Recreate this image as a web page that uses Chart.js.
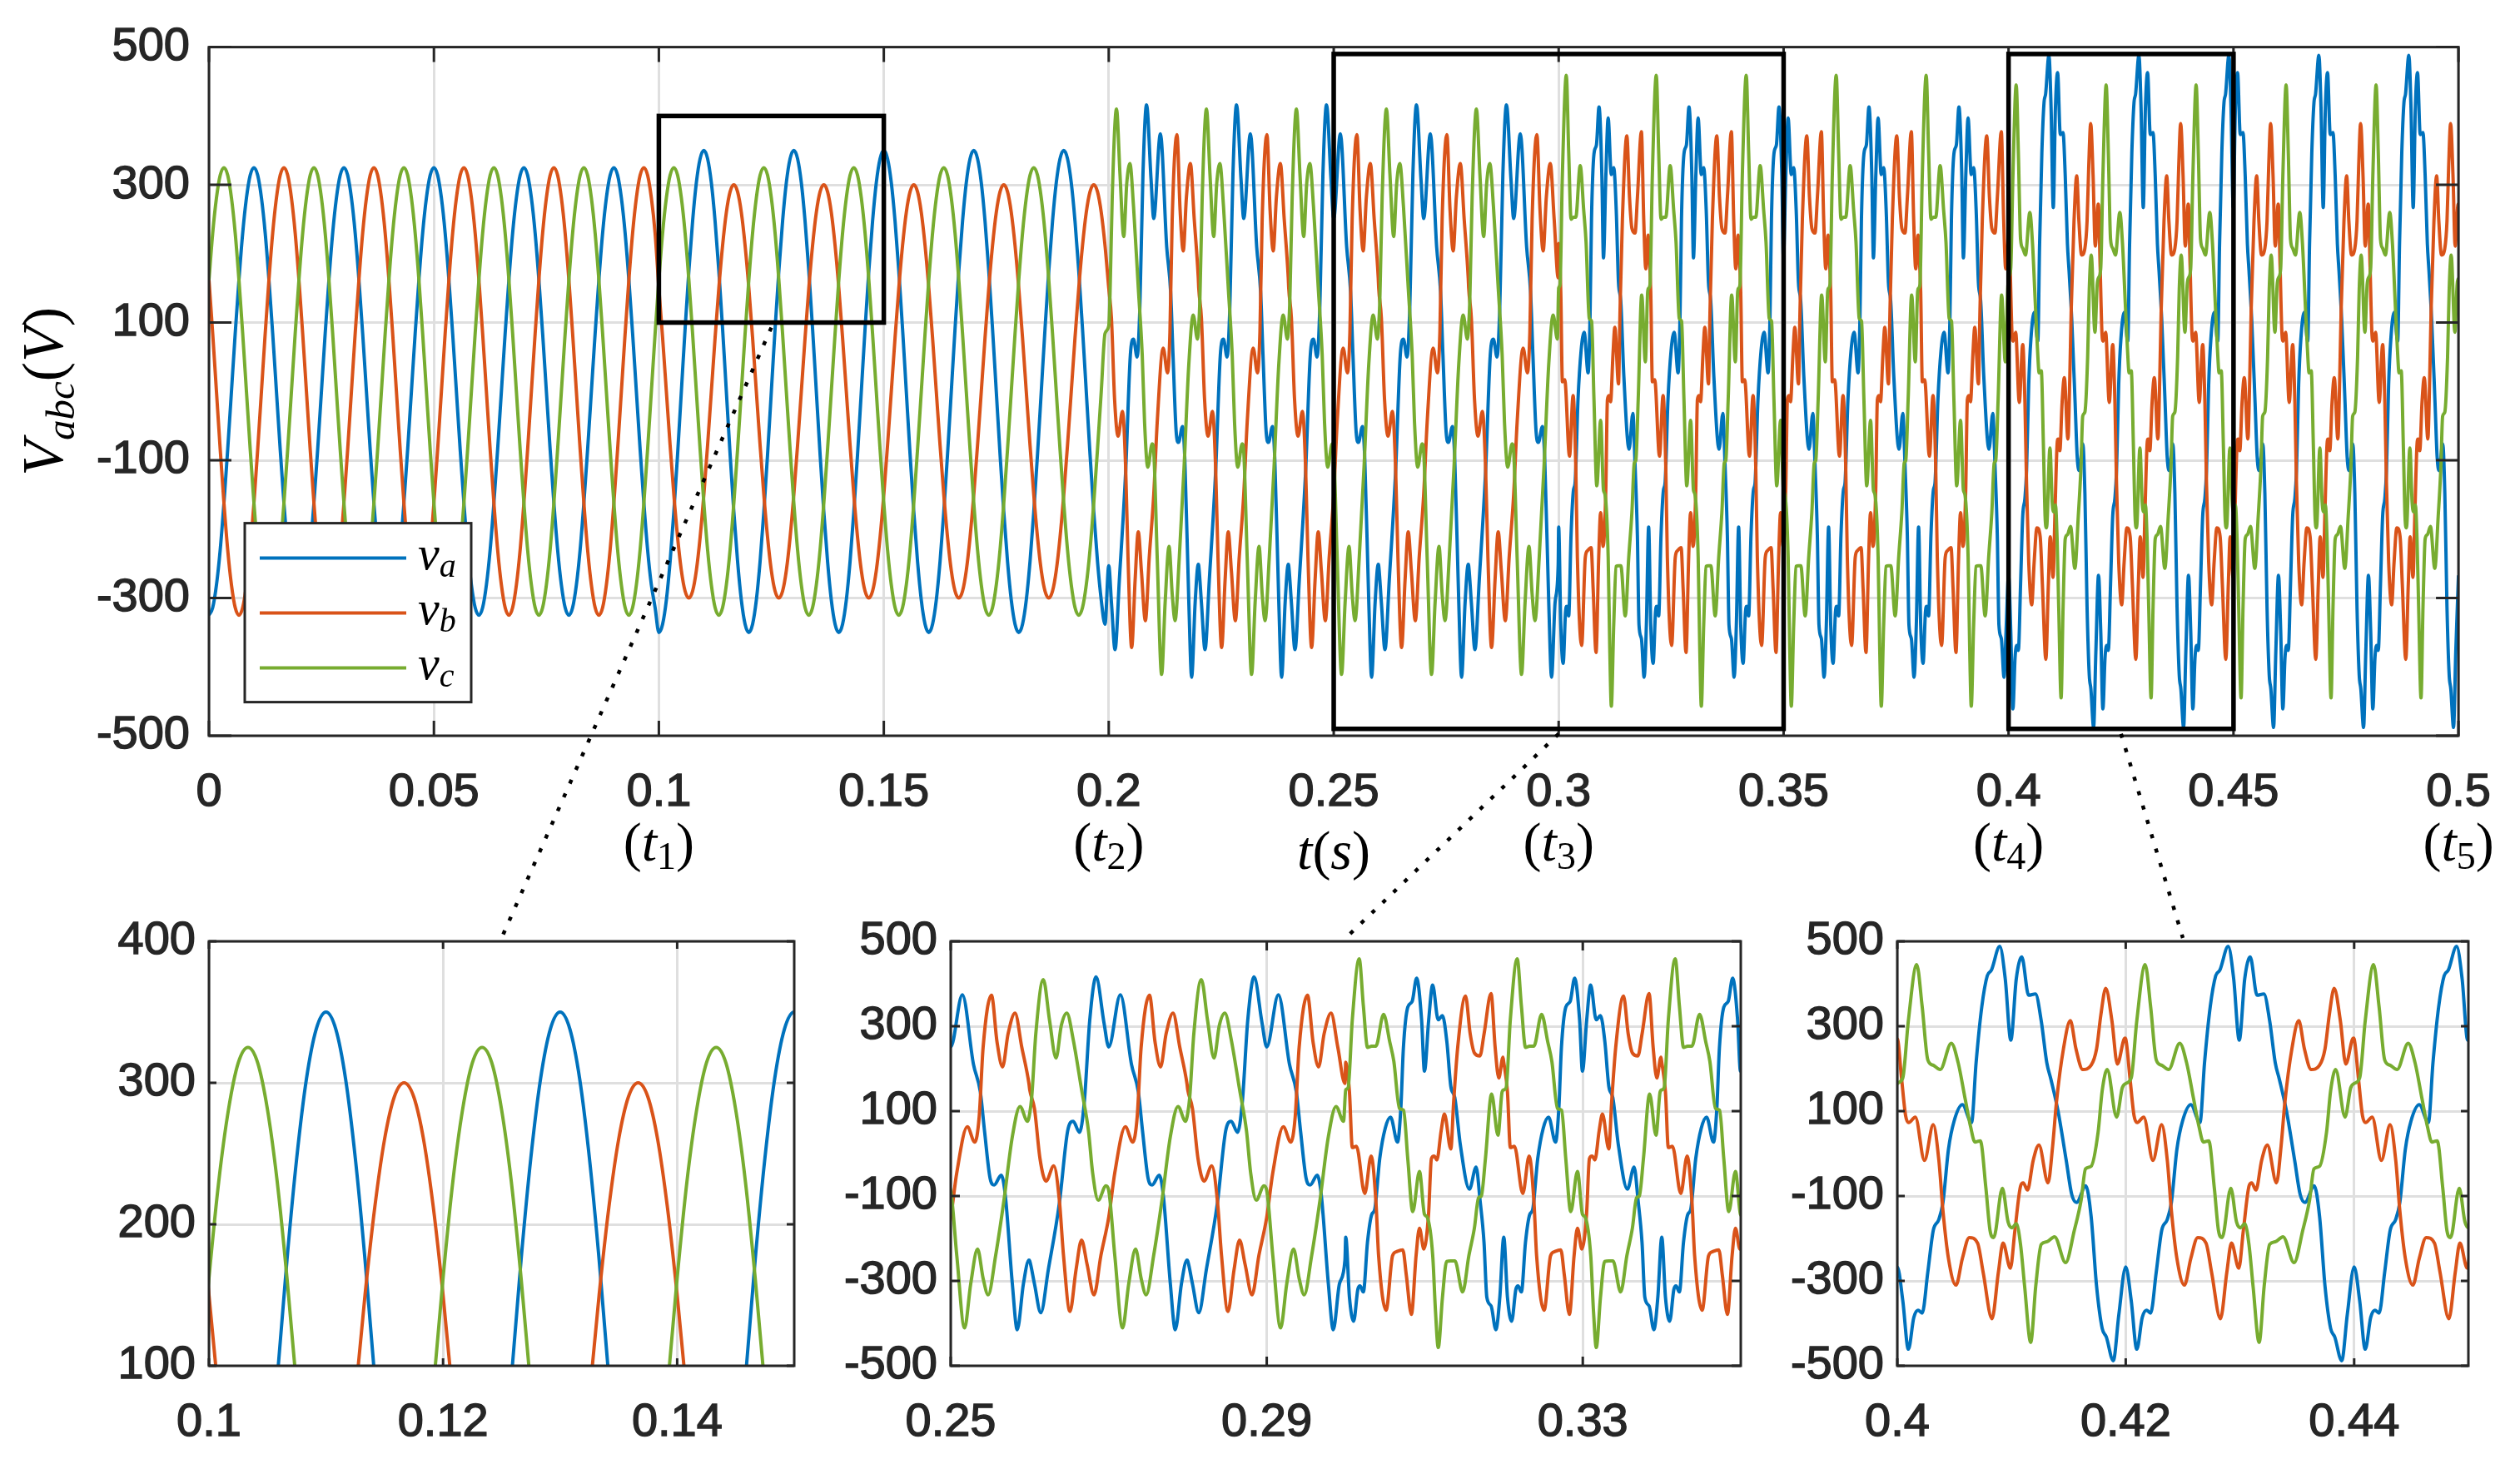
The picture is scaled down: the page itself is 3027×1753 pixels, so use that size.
<!DOCTYPE html>
<html>
<head>
<meta charset="utf-8">
<script src="https://cdn.jsdelivr.net/npm/chart.js@4.4.1/dist/chart.umd.min.js"></script>
<style>
html, body { margin: 0; padding: 0; background: #fff; }
#page { position: relative; width: 3027px; height: 1753px; overflow: hidden; background: #fff; }
#page canvas { position: absolute; left: 0; top: 0; }
</style>
</head>
<body>
<div id="page">
	<canvas id="mainChart" width="3027" height="1753"></canvas>
	<canvas id="inset0" width="3027" height="1753"></canvas>
	<canvas id="inset1" width="3027" height="1753"></canvas>
	<canvas id="inset2" width="3027" height="1753"></canvas>
	<canvas id="overlay" width="3027" height="1753"></canvas>
</div>
<script>
// time base: 50 Hz, five cycles in each interval t0..t5
const periodMs = 20;
const cyclesPerSegment = 5;
const segmentStarts = [0, 0.1, 0.2, 0.3, 0.4];
const endTime = 0.5;

// sample instants (ms inside one cycle) for the two sinusoidal intervals
const sinePhaseMs = [0, 0.833, 1.667, 2.5, 3.333, 4.167, 5, 5.833, 6.667, 7.5, 8.333, 9.167,
	10, 10.833, 11.667, 12.5, 13.333, 14.167, 15, 15.833, 16.667, 17.5, 18.333, 19.167];

// 0 - 0.1 s : balanced 325 V
const va1 = [-325, -314, -281, -230, -162, -84, 0, 84, 162, 230, 281, 314, 325, 314, 281, 230, 162, 84, 0, -84, -162, -230, -281, -314];
const vb1 = [162, 84, 0, -84, -162, -230, -281, -314, -325, -314, -281, -230, -162, -84, 0, 84, 162, 230, 281, 314, 325, 314, 281, 230];
const vc1 = [162, 230, 281, 314, 325, 314, 281, 230, 162, 84, 0, -84, -162, -230, -281, -314, -325, -314, -281, -230, -162, -84, 0, 84];

// 0.1 - 0.2 s : unbalanced (350 / 300 / 325 V)
const va2 = [-350, -338, -303, -247, -175, -91, 0, 91, 175, 247, 303, 338, 350, 338, 303, 247, 175, 91, 0, -91, -175, -247, -303, -338];
const vb2 = [150, 78, 0, -78, -150, -212, -260, -290, -300, -290, -260, -212, -150, -78, 0, 78, 150, 212, 260, 290, 300, 290, 260, 212];
const vc2 = [162, 230, 281, 314, 325, 314, 281, 230, 162, 84, 0, -84, -162, -230, -281, -314, -325, -314, -281, -230, -162, -84, 0, 84];

// distorted intervals, one cycle each as [ms in cycle, volts]
const va3 = [[0,-253],[0.6,-307],[1.4,-375],[2.35,-274],[3.75,-117],[4.8,53],[5.5,76],[6.3,50],[6.9,119],[7.6,315],[8.4,416],[9.4,308],[10,251],[11.47,374],[12.88,210],[13.75,145],[14.28,53],[14.98,-58],[15.5,-74],[16.39,-51],[16.9,-97],[17.8,-307],[18.42,-415],[19.2,-307],[19.9,-251]];
const vb3 = [[0,150],[0.6,106],[1.3,-12],[2.07,-65],[3.05,-29],[3.75,-110],[4.28,-241],[5.09,-372],[5.86,-274],[6.56,-204],[7.26,-261],[8.14,-333],[9.0,-241],[10,-150],[10.77,-45],[12.1,63],[13.05,27],[13.6,86],[14.1,250],[15.16,373],[15.86,263],[16.56,204],[17.26,282],[18.14,331],[19.0,250],[19.9,165]];
const vc3 = [[0,95],[0.25,132],[0.77,282],[1.72,410],[2.5,315],[3.33,225],[4.0,302],[4.7,331],[5.5,269],[6.56,151],[7.44,53],[7.96,-45],[8.67,-110],[9.65,-76],[10,-87],[10.77,-241],[11.75,-411],[12.53,-307],[13.4,-225],[14.1,-294],[14.74,-333],[15.68,-241],[16.74,-110],[17.8,40],[18.77,111],[19.72,76]];

const va4 = [[0,-197],[0.47,-339],[1.0,-395],[1.53,-320],[1.81,-312],[2.23,-326],[2.75,-209],[3.3,-143],[3.65,-133],[4.3,-12],[5.0,60],[5.67,86],[6.55,27],[6.97,106],[7.3,250],[7.85,345],[8.4,358],[8.97,413],[9.6,315],[9.96,194],[10.5,315],[11.0,397],[11.7,315],[12.24,325],[12.8,263],[13.3,158],[13.8,132],[14.5,21],[15.65,-84],[16.5,-32],[17.0,-110],[17.5,-209],[17.86,-339],[18.4,-359],[19.0,-415],[19.5,-339]];
const vb4 = [[0,215],[0.47,145],[0.83,14],[1.35,17],[2.41,-94],[3.21,-6],[3.81,-110],[4.16,-241],[5.11,-369],[5.92,-241],[6.45,-231],[7.22,-227],[7.67,-287],[8.31,-379],[8.9,-241],[9.33,-176],[9.89,-225],[10.48,-143],[10.84,-12],[11.19,-6],[11.54,-15],[12.07,53],[12.49,93],[13.3,11],[13.65,119],[14.17,250],[15.16,371],[15.75,282],[16.28,237],[16.98,230],[17.51,282],[18.39,377],[18.91,250],[19.37,178],[19.9,227]];
const vc4 = [[0,150],[0.3,155],[0.83,315],[1.7,459],[2.23,348],[2.76,250],[3.28,253],[3.81,253],[4.79,328],[5.57,263],[6.09,217],[6.8,106],[7.32,102],[7.85,-12],[8.48,-137],[9.33,-42],[9.96,-143],[10.31,-150],[11.01,-241],[11.36,-372],[11.71,-457],[12.24,-339],[12.77,-254],[13.29,-253],[13.82,-253],[14.8,-326],[15.58,-241],[16.28,-176],[16.81,-104],[17.16,-100],[17.68,-12],[18.46,140],[19.27,43],[19.79,145]];

const va5 = [[0,-267],[0.48,-346],[0.97,-461],[1.45,-386],[1.82,-369],[2.18,-376],[2.67,-280],[3.15,-181],[3.64,-155],[4.0,-115],[4.48,10],[4.97,76],[5.7,115],[6.5,73],[6.9,214],[7.4,346],[7.88,419],[8.24,432],[8.97,488],[9.45,412],[9.94,267],[10.42,412],[10.9,463],[11.5,373],[12.1,376],[12.6,313],[13.09,214],[13.45,175],[14.06,102],[14.79,-16],[15.27,-96],[15.7,-115],[16.5,-76],[16.97,-148],[17.45,-313],[17.94,-412],[18.3,-432],[18.91,-488],[19.4,-379]];
const vb5 = [[0,270],[0.36,181],[0.73,89],[1.0,73],[1.58,86],[2.38,-16],[3.15,68],[3.64,-16],[4.0,-135],[4.48,-247],[5.14,-310],[5.7,-247],[6.3,-198],[7.03,-211],[7.52,-280],[8.29,-389],[8.85,-280],[9.26,-211],[9.9,-270],[10.3,-181],[10.8,-76],[11.03,-69],[11.4,-86],[11.9,-16],[12.4,20],[13.2,-69],[13.6,17],[13.94,122],[14.55,247],[15.15,313],[15.64,247],[16.24,198],[16.97,208],[17.45,247],[17.82,326],[18.25,389],[18.79,313],[19.27,211],[19.93,272]];
const vc5 = [[0,165],[0.48,178],[0.97,313],[1.7,445],[2.18,346],[2.67,221],[3.15,208],[3.76,198],[4.73,260],[5.33,214],[5.94,129],[6.42,63],[6.8,27],[7.27,30],[7.76,-82],[8.12,-181],[8.44,-198],[9.2,-82],[9.7,-161],[10.06,-175],[10.42,-165],[10.79,-214],[11.15,-313],[11.68,-445],[12.12,-313],[12.6,-214],[13.09,-208],[13.77,-196],[14.74,-257],[15.5,-181],[16.1,-109],[16.48,-36],[16.97,-30],[17.58,50],[17.94,148],[18.38,198],[19.2,86],[19.7,155]];

// axes
const mainXTicks = [0, 0.05, 0.1, 0.15, 0.2, 0.25, 0.3, 0.35, 0.4, 0.45, 0.5];
const mainYTicks = [-500, -300, -100, 100, 300, 500];
const eventTimes = [0.1, 0.2, 0.3, 0.4, 0.5];
const eventIndex = ['1', '2', '3', '4', '5'];

// zoomed windows and their insets
const zoomStart = [0.1, 0.25, 0.4];
const zoomEnd = [0.15, 0.35, 0.45];
const zoomLow = [100, -490, -490];
const zoomHigh = [400, 490, 490];
const insetYMin = [100, -500, -500];
const insetYMax = [400, 500, 500];
const insetXTicks = [[0.1, 0.12, 0.14], [0.25, 0.29, 0.33], [0.4, 0.42, 0.44]];
const insetYTicks = [[100, 200, 300, 400], mainYTicks, mainYTicks];

const seriesColors = ['#0072BD', '#D95319', '#77AC30'];
const seriesSub = ['a', 'b', 'c'];

const ink = '#262626';
const sansFont = "'Liberation Sans', Arial, Helvetica, sans-serif";
const serifFont = "'Liberation Serif', 'Times New Roman', serif";
const it = s => `italic ${s}px ${serifFont}`;
const up = s => `${s}px ${serifFont}`;

const zip = (ts, vs) => ts.map((t, i) => [t, vs[i]]);

function buildSeries(cycles) {
	const pts = [];
	segmentStarts.forEach((t0, s) => {
		for (let k = 0; k < cyclesPerSegment; k++) {
			cycles[s].forEach(([p, v]) => pts.push({x: t0 + (k * periodMs + p) / 1000, y: v}));
		}
	});
	pts.push({x: endTime, y: cycles[cycles.length - 1][0][1]});
	return pts;
}

const series = [
	buildSeries([zip(sinePhaseMs, va1), zip(sinePhaseMs, va2), va3, va4, va5]),
	buildSeries([zip(sinePhaseMs, vb1), zip(sinePhaseMs, vb2), vb3, vb4, vb5]),
	buildSeries([zip(sinePhaseMs, vc1), zip(sinePhaseMs, vc2), vc3, vc4, vc5]),
];

function makeDatasets() {
	// last dataset in the list is drawn first, so v_c ends up on top like in matlab
	return [2, 1, 0].map(i => ({
		data: series[i],
		borderColor: seriesColors[i],
		borderWidth: 4,
		pointRadius: 0,
		cubicInterpolationMode: 'monotone',
		fill: false,
		clip: 0,
	}));
}

function makeScale(min, max, values, size, pad, horizontal) {
	return {
		type: 'linear',
		min: min,
		max: max,
		afterBuildTicks: s => { s.ticks = values.map(v => ({value: v})); },
		afterFit: s => { if (horizontal) s.height = size; else s.width = size; },
		ticks: {
			font: {family: sansFont, size: 56},
			color: ink,
			textStrokeColor: ink,
			textStrokeWidth: 1.4,
			padding: pad,
			autoSkip: false,
			maxRotation: 0,
			minRotation: 0,
			callback: v => String(Number(v.toFixed(3))),
		},
		grid: {color: '#dfdfdf', lineWidth: 3, drawTicks: false},
		border: {display: false},
	};
}

function drawRuns(ctx, runs, x, y, align) {
	let w = 0;
	runs.forEach(r => { ctx.font = r[1]; w += ctx.measureText(r[0]).width; });
	let cx = align == 'center' ? x - w / 2 : x;
	runs.forEach(r => {
		ctx.font = r[1];
		ctx.fillText(r[0], cx, y + (r[2] || 0));
		cx += ctx.measureText(r[0]).width;
	});
}

// inward ticks on all four sides plus the box, matlab style
const matlabAxes = {
	id: 'matlabAxes',
	afterDatasetsDraw(chart, args, opts) {
		const ctx = chart.ctx;
		const a = chart.chartArea;
		const x = chart.scales.x, y = chart.scales.y;
		ctx.save();
		ctx.strokeStyle = ink;
		ctx.lineWidth = 3;
		ctx.beginPath();
		x.ticks.forEach(t => {
			const px = x.getPixelForValue(t.value);
			ctx.moveTo(px, a.bottom); ctx.lineTo(px, a.bottom - opts.xLen);
			ctx.moveTo(px, a.top); ctx.lineTo(px, a.top + opts.xLen);
		});
		y.ticks.forEach(t => {
			const py = y.getPixelForValue(t.value);
			ctx.moveTo(a.left, py); ctx.lineTo(a.left + opts.yLen, py);
			ctx.moveTo(a.right, py); ctx.lineTo(a.right - opts.yLen, py);
		});
		ctx.stroke();
		ctx.strokeRect(a.left, a.top, a.right - a.left, a.bottom - a.top);
		ctx.restore();
	}
};

// zoom boxes, legend and latex-like labels of the big axes
const mainDecor = {
	id: 'mainDecor',
	afterDraw(chart) {
		const ctx = chart.ctx;
		const a = chart.chartArea;
		const x = chart.scales.x, y = chart.scales.y;
		ctx.save();

		ctx.strokeStyle = '#000';
		ctx.lineWidth = 5.5;
		zoomStart.forEach((t, i) => {
			const x0 = x.getPixelForValue(t), x1 = x.getPixelForValue(zoomEnd[i]);
			const y0 = y.getPixelForValue(zoomHigh[i]), y1 = y.getPixelForValue(zoomLow[i]);
			ctx.strokeRect(x0, y0, x1 - x0, y1 - y0);
		});

		// legend
		const lx = a.left + 43, ly = a.top + 572;
		ctx.fillStyle = '#fff';
		ctx.fillRect(lx, ly, 272, 215);
		ctx.strokeStyle = ink;
		ctx.lineWidth = 3;
		ctx.strokeRect(lx, ly, 272, 215);
		ctx.textBaseline = 'alphabetic';
		ctx.textAlign = 'left';
		seriesColors.forEach((c, i) => {
			const ry = ly + 42 + i * 66;
			ctx.strokeStyle = c;
			ctx.lineWidth = 4;
			ctx.beginPath();
			ctx.moveTo(lx + 18, ry);
			ctx.lineTo(lx + 194, ry);
			ctx.stroke();
			ctx.fillStyle = '#000';
			drawRuns(ctx, [['v', it(58)], [seriesSub[i], it(40), 9]], lx + 208, ry + 13, 'left');
		});

		// second row under the time ticks
		ctx.fillStyle = '#000';
		eventTimes.forEach((t, i) => {
			drawRuns(ctx, [['(', up(66)], ['t', it(66)], [eventIndex[i], up(46), 10], [')', up(66)]],
				x.getPixelForValue(t), a.bottom + 150, 'center');
		});
		drawRuns(ctx, [['t', it(66)], ['(', up(66)], ['s', it(66)], [')', up(66)]],
			(a.left + a.right) / 2, a.bottom + 160, 'center');

		// y label
		ctx.translate(a.left - 176, (a.top + a.bottom) / 2);
		ctx.rotate(-Math.PI / 2);
		drawRuns(ctx, [['V', it(70)], ['abc', it(49), 14], ['(', up(70)], ['V', it(70)], [')', up(70)]], 0, 0, 'center');
		ctx.restore();
	}
};

const W = 3027, H = 1753;

const mainChart = new Chart('mainChart', {
	type: 'line',
	data: {datasets: makeDatasets()},
	options: {
		responsive: false,
		animation: false,
		devicePixelRatio: 1,
		events: [],
		parsing: false,
		layout: {padding: {left: 51, right: W - 2965, top: 52, bottom: H - 884 - 150}},
		scales: {
			x: makeScale(0, 0.5, mainXTicks, 150, 35, true),
			y: makeScale(-500, 500, mainYTicks, 200, 23, false),
		},
		plugins: {legend: {display: false}, tooltip: {enabled: false}, matlabAxes: {xLen: 18, yLen: 27}},
	},
	plugins: [matlabAxes, mainDecor],
});

const insetLeft = [251, 1142, 2279];
const insetRight = [954, 2091, 2965];
const insetTickLen = [9, 11, 9];
const insetTop = 1131, insetBottom = 1641;

const insets = zoomStart.map((t, i) => new Chart('inset' + i, {
	type: 'line',
	data: {datasets: makeDatasets()},
	options: {
		responsive: false,
		animation: false,
		devicePixelRatio: 1,
		events: [],
		parsing: false,
		layout: {padding: {left: insetLeft[i] - 130, right: W - insetRight[i], top: insetTop, bottom: H - insetBottom - 100}},
		scales: {
			x: makeScale(t, zoomEnd[i], insetXTicks[i], 100, 35, true),
			y: makeScale(insetYMin[i], insetYMax[i], insetYTicks[i], 130, 16, false),
		},
		plugins: {legend: {display: false}, tooltip: {enabled: false}, matlabAxes: {xLen: insetTickLen[i], yLen: insetTickLen[i]}},
	},
	plugins: [matlabAxes],
}));

// dotted connectors from each zoom box to its inset
const octx = document.getElementById('overlay').getContext('2d');
octx.strokeStyle = '#000';
octx.lineWidth = 4.5;
octx.setLineDash([5, 13]);
insets.forEach((ch, i) => {
	const sx = mainChart.scales.x.getPixelForValue((zoomStart[i] + zoomEnd[i]) / 2);
	const sy = mainChart.scales.y.getPixelForValue(zoomLow[i]) + 6;
	const ex = (ch.chartArea.left + ch.chartArea.right) / 2;
	const ey = ch.chartArea.top - 4;
	octx.beginPath();
	octx.moveTo(sx, sy);
	octx.lineTo(ex, ey);
	octx.stroke();
});
</script>
</body>
</html>
